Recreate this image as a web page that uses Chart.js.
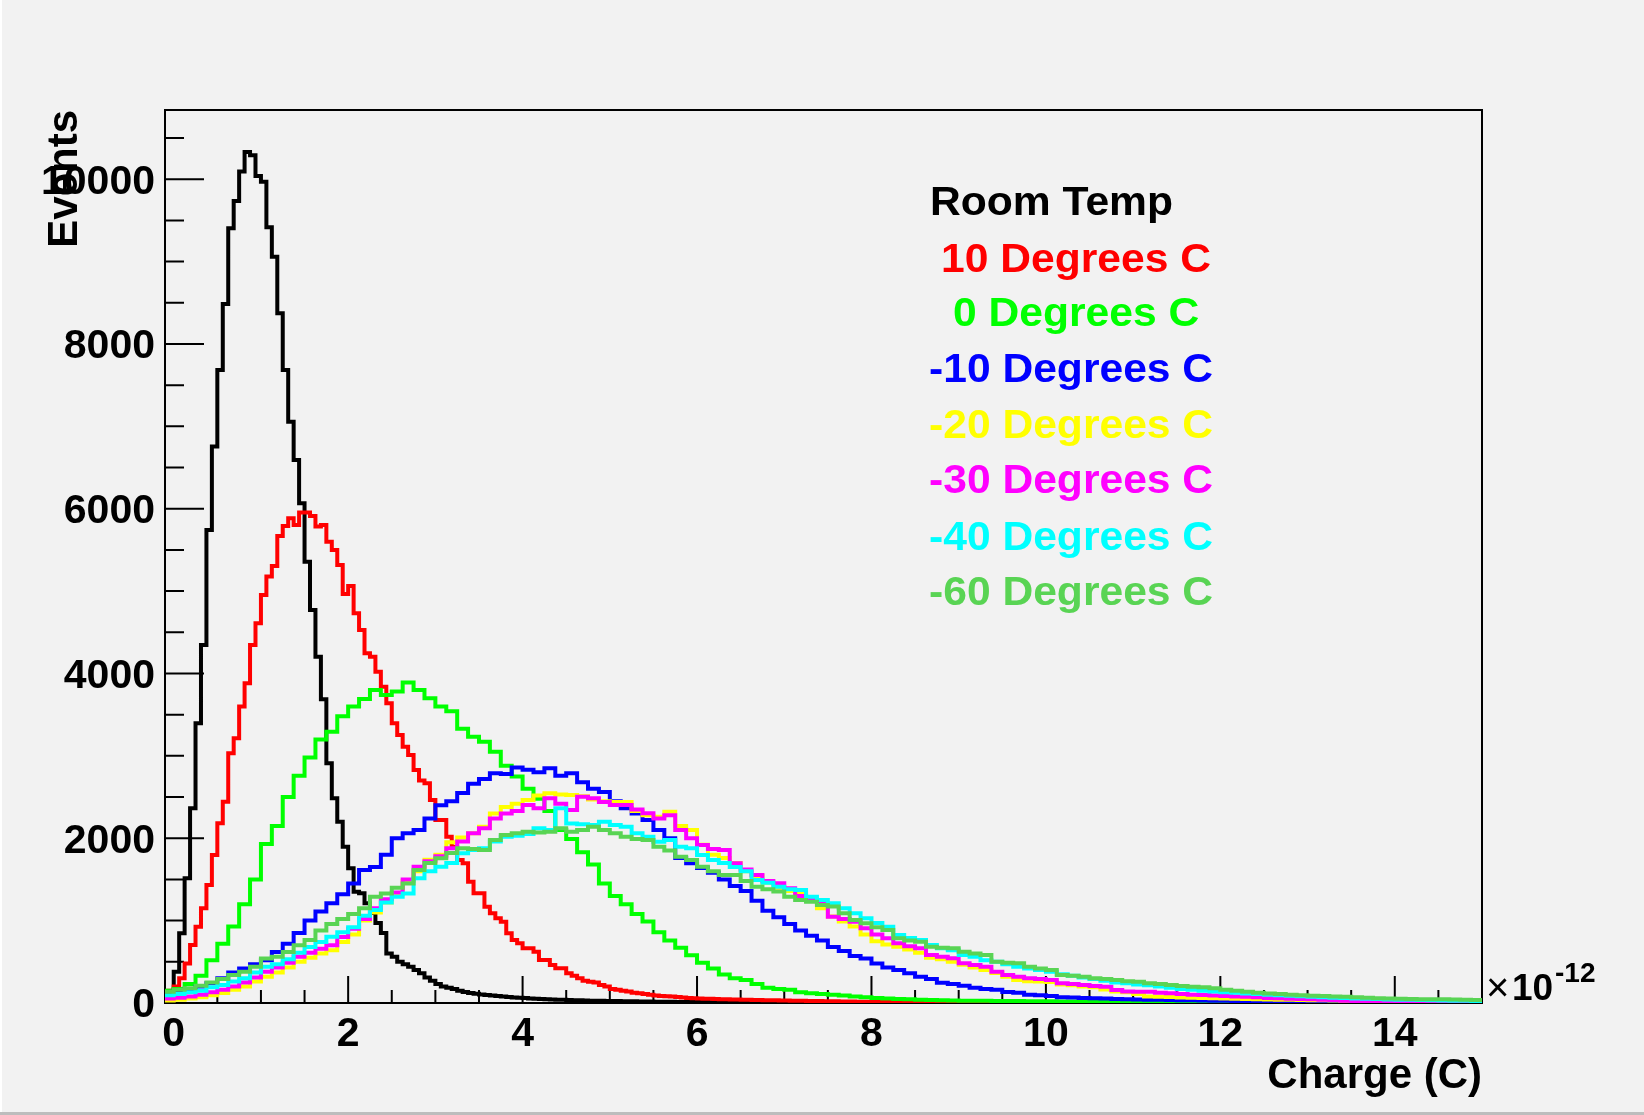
<!DOCTYPE html>
<html><head><meta charset="utf-8">
<script src="https://cdn.jsdelivr.net/npm/chart.js@4.4.1/dist/chart.umd.min.js"></script>
<style>html,body{margin:0;padding:0;background:#f2f2f2;overflow:hidden}canvas{display:block}</style>
</head><body><canvas id="c" width="1644" height="1115"></canvas>
<script>
// ---- data (bin contents) ----
const seriesNames = ["Room Temp","10 Degrees C","0 Degrees C","-10 Degrees C","-20 Degrees C","-30 Degrees C","-40 Degrees C","-60 Degrees C"];
const seriesColors = ["#000000","#ff0000","#00ff00","#0000ff","#ffff00","#ff00ff","#00ffff","#59d454"];
const histStart = -0.125;      // low edge of first bin (x10^-12 C)
const fineBinWidth = 0.0625;   // Room Temp, 10 C
const coarseBinWidth = 0.125;  // others

const roomTemp = [110,120,380,846,1514,2363,3395,4346,5742,6754,7684,8486,9405,9736,10092,10330,10290,10040,9970,9417,9060,8373,7685,7057,6592,6066,5357,4771,4204,3687,2910,2485,2201,1898,1635,1351,1332,1210,1092,970,850,600,560,500,470,440,400,360,310,270,230,200,185,170,150,135,120,112,104,96,90,84,78,
72,68,64,60,56,52,49,46,43,40,38,36,34,32,30,28,27,26,25,24,23,22,21,20,19,18,17,16,15,14,14,13,13,12,12,11,11,10,10,9,9,8,8,8,7,7,7,6,6,6,5,5,5,5,4,4,4,4,3,3,3,3,3,2,2,2,2];

const deg10 = [140,150,200,300,480,704,927,1149,1432,1797,2181,2444,3031,3213,3598,3881,4346,4609,4953,5176,5305,5669,5790,5884,5803,5953,5953,5912,5783,5803,5600,5499,5317,4965,5062,4730,4528,4245,4204,4022,3840,3638,3395,3253,3112,3011,2828,2700,2666,2464,2221,2221,2019,1898,1736,1695,1473,1331,1331,1169,1089,1028,987,846,765,724,664,664,623,522,522,461,421,421,360,330,299,270,259,250,219,200,170,160,150,140,125,117,110,100,92,85,82,78,72,66,60,57,
55,53,51,49,47,45,43,41,39,38,36,35,34,33,32,30,29,28,27,26,25,24,23,22,21,20,19,18,17,16,15,15,14,14,13,13,12,12,11,11,10,10,9,9,8,8,8,7,7,7,6,6,6,5,5,5,5,4,4,4,4,3,3,3,3];

const deg0 = [150,170,230,330,520,720,930,1200,1500,1930,2150,2500,2760,2980,3200,3294,3480,3600,3690,3800,3740,3780,3890,3800,3700,3600,3540,3330,3233,3170,3050,2880,2750,2600,2480,2330,2100,1990,1830,1680,1450,1300,1200,1080,990,860,760,670,580,490,420,345,300,280,230,185,170,160,130,117,110,
100,90,80,70,62,55,50,45,40,36,33,30,28,27,26,25,24,23,22,21,20,19,18,17,16,15,14,13,12,12,11,11,10,10,9,9,8,8,7,7,6,6,6,5,5,5,4,4,4,4,3,3,3,3,3,2,2,2,2,2];

const degM10 = [120,150,170,200,240,300,370,420,470,520,620,720,850,1000,1110,1210,1320,1450,1615,1650,1800,2000,2060,2100,2241,2400,2450,2550,2660,2720,2790,2780,2860,2830,2800,2850,2760,2790,2680,2600,2560,2450,2363,2300,2221,2100,2000,1760,1695,1640,1580,1500,1420,1360,1240,1120,1040,960,880,815,760,680,630,570,540,480,430,400,360,320,290,245,230,210,185,170,160,135,125,100,95,85,70,68,62,57,55,50,46,42,
40,38,36,34,32,30,28,27,25,24,22,21,20,19,18,17,16,15,14,13,13,12,12,11,11,10,10,9,9,8,8];

const degM20 = [30,40,55,70,95,120,160,200,260,320,370,430,500,550,600,640,740,830,1000,1100,1220,1320,1480,1600,1740,1800,1950,2010,2060,2140,2300,2380,2420,2464,2520,2545,2530,2525,2510,2470,2450,2440,2440,2330,2280,2262,2323,2150,2100,1920,1800,1760,1700,1600,1540,1460,1400,1360,1330,1240,1150,1050,990,930,830,750,710,684,650,610,550,530,500,465,430,400,365,320,280,265,260,255,225,215,200,190,165,140,130,110,80,
75,72,68,65,60,58,55,52,48,45,42,40,38,36,34,32,30,27,25,22,20,18,16,15,14,13,12,11,10,9];

const degM30 = [55,65,80,100,130,160,200,250,310,380,430,490,560,610,660,700,800,900,1020,1150,1260,1340,1500,1655,1720,1780,1880,1960,2060,2120,2241,2300,2330,2403,2363,2484,2420,2343,2505,2484,2440,2403,2403,2350,2302,2241,2280,2100,1999,1918,1870,1857,1696,1620,1554,1480,1453,1392,1300,1250,1210,1048,1020,987,906,830,785,724,690,664,583,560,542,482,460,441,380,340,320,300,290,279,239,230,218,205,198,158,140,138,138,
125,117,110,100,97,90,85,80,77,70,62,57,52,48,45,40,35,28,24,20,16,16,15,15,14,13,12,12,11,10];

const degM40 = [95,110,130,150,190,218,260,300,370,440,470,530,610,680,740,805,860,920,1060,1129,1220,1290,1330,1513,1600,1655,1700,1817,1857,1878,1960,2019,2030,2050,2120,2100,2363,2180,2170,2160,2201,2160,2140,2060,2019,1958,1979,1898,1880,1797,1736,1700,1650,1600,1493,1460,1410,1380,1372,1291,1250,1210,1150,1088,1028,970,927,825,790,765,704,664,640,583,560,520,500,470,440,420,400,380,350,330,310,290,270,250,240,225,215,
200,185,170,160,150,140,130,125,115,108,100,95,88,82,76,70,65,60,56,52,48,44,40,38,36,33,30,28,26,24];

const degM60 = [138,160,180,210,250,290,340,380,440,540,560,620,700,765,880,960,1020,1080,1149,1290,1330,1400,1450,1615,1700,1756,1820,1878,1870,1857,1979,2040,2060,2080,2070,2080,2120,2080,2100,2140,2100,2060,2019,1990,1979,1898,1850,1776,1736,1655,1600,1554,1554,1480,1412,1380,1352,1290,1250,1230,1190,1170,1090,1008,967,920,886,785,760,745,684,670,664,623,600,583,502,490,482,441,420,400,340,330,320,300,290,279,265,259,239,
230,218,205,198,190,178,160,150,138,125,115,109,100,95,89,85,80,77,70,65,57,55,52,49,47,46,45,42,40,36];

const seriesValues = [roomTemp, deg10, deg0, degM10, degM20, degM30, degM40, degM60];
const seriesBinWidths = [fineBinWidth, fineBinWidth, coarseBinWidth, coarseBinWidth, coarseBinWidth, coarseBinWidth, coarseBinWidth, coarseBinWidth];

const xTickValues = [0,2,4,6,8,10,12,14];
const yTickValues = [0,2000,4000,6000,8000,10000];
const xMin = -0.1, xMax = 15.0, yMin = 0, yMax = 10840;
const xMinorStep = 0.5, yMinorStep = 500;

// ---- build step-histogram points ----
function histPoints(values, w) {
  const pts = values.map((v, i) => ({x: histStart + i * w, y: v}));
  pts.push({x: histStart + values.length * w, y: values[values.length - 1]});
  return pts;
}

const FONT = '"Liberation Sans", Arial, Helvetica, sans-serif';

const bgPlugin = {
  id: 'bg',
  beforeDraw(chart) {
    const ctx = chart.ctx;
    ctx.save();
    ctx.fillStyle = '#f2f2f2';
    ctx.fillRect(0, 0, chart.width, chart.height);
    ctx.fillStyle = '#ffffff';
    ctx.fillRect(0, 0, 2, chart.height);
    ctx.fillStyle = '#bdbdbd';
    ctx.fillRect(0, chart.height - 3, chart.width, 3);
    ctx.restore();
  }
};

const framePlugin = {
  id: 'frame',
  beforeDatasetsDraw(chart) {
    const {ctx, chartArea: a, scales: {x, y}} = chart;
    ctx.save();
    ctx.strokeStyle = '#000';
    ctx.lineWidth = 2;
    ctx.strokeRect(a.left, a.top, a.right - a.left, a.bottom - a.top);
    ctx.beginPath();
    for (let v = 0; v <= xMax + 1e-9; v += xMinorStep) {
      const px = x.getPixelForValue(v);
      const major = Math.abs(v / 2 - Math.round(v / 2)) < 1e-9;
      const len = major ? 27 : 13;
      ctx.moveTo(px, a.bottom);
      ctx.lineTo(px, a.bottom - len);
    }
    for (let v = 0; v <= yMax; v += yMinorStep) {
      const py = y.getPixelForValue(v);
      const major = v % 2000 === 0;
      const len = major ? 39 : 19;
      ctx.moveTo(a.left, py);
      ctx.lineTo(a.left + len, py);
    }
    ctx.stroke();
    ctx.restore();
  }
};

function stretchedText(ctx, txt, x, y, sx) {
  ctx.save();
  ctx.translate(x, y);
  ctx.scale(sx, 1);
  ctx.fillText(txt, 0, 0);
  ctx.restore();
}

const textPlugin = {
  id: 'texts',
  afterDraw(chart) {
    const {ctx, chartArea: a} = chart;
    ctx.save();
    ctx.fillStyle = '#000';
    ctx.font = 'bold 42px ' + FONT;
    ctx.textAlign = 'right';
    ctx.textBaseline = 'alphabetic';
    ctx.fillText('Charge (C)', a.right, 1088);
    ctx.save();
    ctx.translate(77, a.top);
    ctx.rotate(-Math.PI / 2);
    ctx.textAlign = 'right';
    ctx.fillText('Events', 0, 0);
    ctx.restore();
    ctx.textAlign = 'left';
    ctx.font = '40px ' + FONT;
    ctx.fillText('\u00d7', a.right + 4, 1001);
    ctx.font = 'bold 37px ' + FONT;
    ctx.fillText('10', a.right + 30, 1000);
    ctx.font = 'bold 28px ' + FONT;
    ctx.fillText('-12', a.right + 73, 982);
    const legendX = [930, 941, 953, 929, 929, 929, 929, 929];
    const legendY = [215, 272, 326, 382, 438, 493, 550, 605];
    ctx.font = 'bold 40px ' + FONT;
    seriesNames.forEach((n, i) => {
      ctx.fillStyle = seriesColors[i];
      stretchedText(ctx, n, legendX[i], legendY[i], 1.065);
    });
    ctx.restore();
  }
};

const datasets = seriesValues.map((vals, i) => ({
  label: seriesNames[i],
  data: histPoints(vals, seriesBinWidths[i]),
  borderColor: seriesColors[i],
  backgroundColor: seriesColors[i],
  borderWidth: 4,
  stepped: true,
  fill: false,
  pointRadius: 0,
  tension: 0,
  borderJoinStyle: 'miter',
  order: seriesValues.length - i
}));

const tickFont = {family: FONT, size: 41, weight: 'bold'};

new Chart(document.getElementById('c'), {
  type: 'line',
  data: {datasets},
  options: {
    responsive: false,
    animation: false,
    devicePixelRatio: 1,
    layout: {padding: {left: 0, right: 162, top: 110, bottom: 0}},
    plugins: {legend: {display: false}, tooltip: {enabled: false}},
    scales: {
      x: {
        type: 'linear', min: xMin, max: xMax,
        grid: {display: false, drawTicks: false},
        border: {display: false},
        ticks: {font: tickFont, color: '#000', padding: 7, maxRotation: 0, autoSkip: false,
                callback: v => String(v)},
        afterBuildTicks: s => { s.ticks = xTickValues.map(v => ({value: v})); },
        afterFit: s => { s.height = 112; }
      },
      y: {
        type: 'linear', min: yMin, max: yMax,
        grid: {display: false, drawTicks: false},
        border: {display: false},
        ticks: {font: tickFont, color: '#000', padding: 10, autoSkip: false, labelOffset: 3,
                callback: v => String(v)},
        afterBuildTicks: s => { s.ticks = yTickValues.map(v => ({value: v})); },
        afterFit: s => { s.width = 165; }
      }
    }
  },
  plugins: [bgPlugin, framePlugin, textPlugin]
});
</script>
</body></html>
